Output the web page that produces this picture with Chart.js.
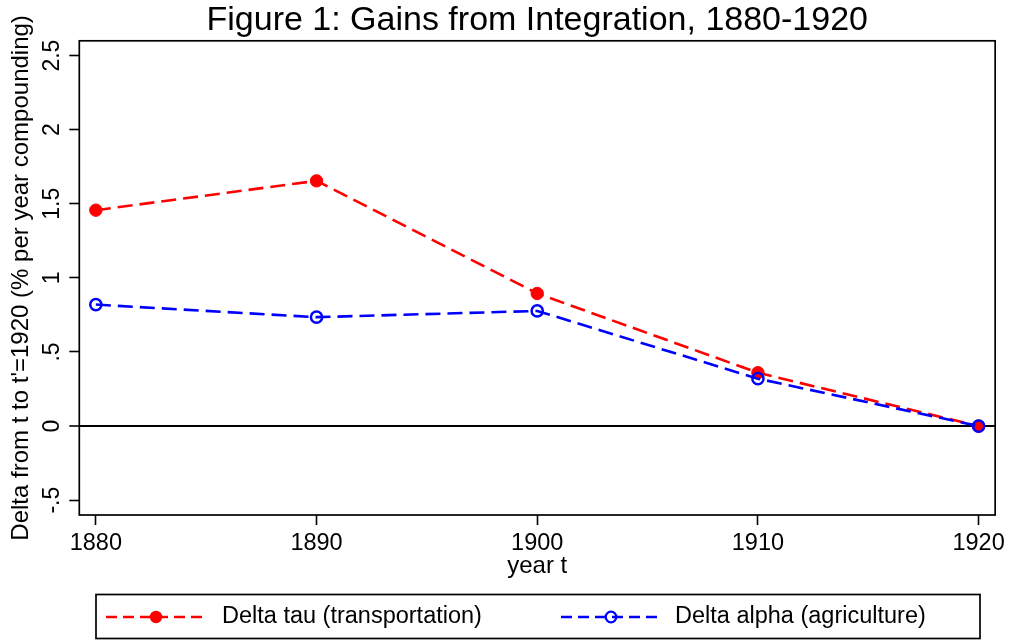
<!DOCTYPE html>
<html><head><meta charset="utf-8">
<script src="https://cdn.jsdelivr.net/npm/chart.js@4.4.0/dist/chart.umd.min.js"></script>
<style>html,body{margin:0;padding:0;background:#fff;} #wrap{width:1009px;height:641px;}</style>
</head><body><div id="wrap"><canvas id="c" width="1009" height="641"></canvas></div>
<script>
const years = [1880, 1890, 1900, 1910, 1920];
const deltaTau = [1.457, 1.655, 0.895, 0.36, 0];
const deltaAlpha = [0.82, 0.735, 0.777, 0.32, 0];
const seriesLabels = ['Delta tau (transportation)', 'Delta alpha (agriculture)'];
const yTickValues = [-0.5, 0, 0.5, 1, 1.5, 2, 2.5];
const xTickValues = [1880, 1890, 1900, 1910, 1920];
const titleText = 'Figure 1: Gains from Integration, 1880-1920';
const xTitle = 'year t';
const yTitle = "Delta from t to t'=1920 (% per year compounding)";

const FONT = '"Liberation Sans", Arial, sans-serif';

function fmtY(v) {
  if (v === 0) return '0';
  const s = String(Math.round(v * 10) / 10);
  return s.replace(/^(-?)0\./, '$1.');
}

const plotBox = {
  id: 'plotBox',
  afterDraw(chart) {
    const {ctx, chartArea: a} = chart;
    ctx.save();
    ctx.strokeStyle = '#000';
    ctx.lineWidth = 1.7;
    ctx.strokeRect(a.left, a.top, a.right - a.left, a.bottom - a.top);
    ctx.restore();
  }
};

const boxLegend = {
  id: 'boxLegend',
  afterDraw(chart) {
    const ctx = chart.ctx;
    const ds = chart.data.datasets;
    const cy = 617;
    ctx.save();
    ctx.strokeStyle = '#000';
    ctx.lineWidth = 1.7;
    ctx.strokeRect(96, 594.5, 884, 44);
    const items = [
      {d: ds[0], x0: 106, x1: 206, tx: 222},
      {d: ds[1], x0: 561, x1: 661, tx: 675}
    ];
    items.forEach(it => {
      ctx.strokeStyle = it.d.borderColor;
      ctx.lineWidth = it.d.borderWidth;
      ctx.setLineDash([11, 6]);
      ctx.beginPath(); ctx.moveTo(it.x0, cy); ctx.lineTo(it.x1, cy); ctx.stroke();
      ctx.setLineDash([]);
      const cx = (it.x0 + it.x1) / 2;
      ctx.beginPath(); ctx.arc(cx, cy, it.d.legendRadius, 0, Math.PI * 2);
      if (it.d.legendFilled) { ctx.fillStyle = it.d.borderColor; ctx.fill(); }
      else { ctx.lineWidth = 2.3; ctx.stroke(); }
      ctx.fillStyle = '#000';
      ctx.font = '23.5px ' + FONT;
      ctx.textBaseline = 'middle';
      ctx.textAlign = 'left';
      ctx.fillText(it.d.label, it.tx, cy);
    });
    ctx.restore();
  }
};

new Chart(document.getElementById('c'), {
  type: 'line',
  data: {
    datasets: [
      {
        label: seriesLabels[0],
        data: years.map((y, i) => ({x: y, y: deltaTau[i]})),
        borderColor: '#ff0000',
        backgroundColor: '#ff0000',
        borderWidth: 2.6,
        borderDash: [15, 7],
        pointRadius: 6.2,
        pointBorderWidth: 1,
        pointBackgroundColor: '#ff0000',
        pointBorderColor: '#ff0000',
        tension: 0,
        order: 1,
        legendRadius: 6.2,
        legendFilled: true
      },
      {
        label: seriesLabels[1],
        data: years.map((y, i) => ({x: y, y: deltaAlpha[i]})),
        borderColor: '#0000ff',
        backgroundColor: 'rgba(0,0,0,0)',
        borderWidth: 2.6,
        borderDash: [15, 7],
        pointRadius: 5.6,
        pointBorderWidth: 2.5,
        pointBackgroundColor: 'rgba(0,0,0,0)',
        pointBorderColor: '#0000ff',
        tension: 0,
        order: 0,
        legendRadius: 5.3,
        legendFilled: false
      }
    ]
  },
  options: {
    responsive: false,
    animation: false,
    devicePixelRatio: 1,
    layout: {padding: {left: 0, right: 13.3, top: 0, bottom: 56}},
    plugins: {
      legend: {display: false},
      tooltip: {enabled: false},
      title: {
        display: true,
        text: titleText,
        fullSize: false,
        color: '#000',
        font: {size: 34, family: FONT, weight: 'normal'},
        padding: {top: 0, bottom: 0}
      }
    },
    scales: {
      x: {
        type: 'linear',
        min: 1879.25,
        max: 1920.75,
        afterBuildTicks: s => { s.ticks = xTickValues.map(v => ({value: v})); },
        afterFit: s => { s.height = 70; },
        border: {display: false},
        grid: {drawOnChartArea: false, drawTicks: true, tickLength: 10, tickColor: '#000', tickWidth: 1.6},
        ticks: {
          color: '#000', font: {size: 23.5, family: FONT}, padding: 4,
          maxRotation: 0, minRotation: 0,
          callback: v => String(v)
        },
        title: {
          display: true, text: xTitle, color: '#000',
          font: {size: 24, family: FONT}, padding: {top: 0, bottom: 4.6}
        }
      },
      y: {
        type: 'linear',
        min: -0.6,
        max: 2.6,
        afterBuildTicks: s => { s.ticks = yTickValues.map(v => ({value: v})); },
        afterFit: s => { s.width = 79.3; },
        border: {display: false},
        grid: {
          drawOnChartArea: true, drawTicks: true, tickLength: 10, tickColor: '#000', tickWidth: 1.6,
          color: c => (c.tick && c.tick.value === 0) ? '#000' : 'rgba(0,0,0,0)',
          lineWidth: c => (c.tick && c.tick.value === 0) ? 2 : 1
        },
        ticks: {
          color: '#000', font: {size: 23, family: FONT}, padding: 0.5,
          minRotation: 90, maxRotation: 90, crossAlign: 'center',
          callback: v => fmtY(v)
        },
        title: {
          display: true, text: yTitle, color: '#000',
          font: {size: 24, family: FONT}, padding: {top: 6.6, bottom: 0}
        }
      }
    }
  },
  plugins: [plotBox, boxLegend]
});
</script>
</body></html>
